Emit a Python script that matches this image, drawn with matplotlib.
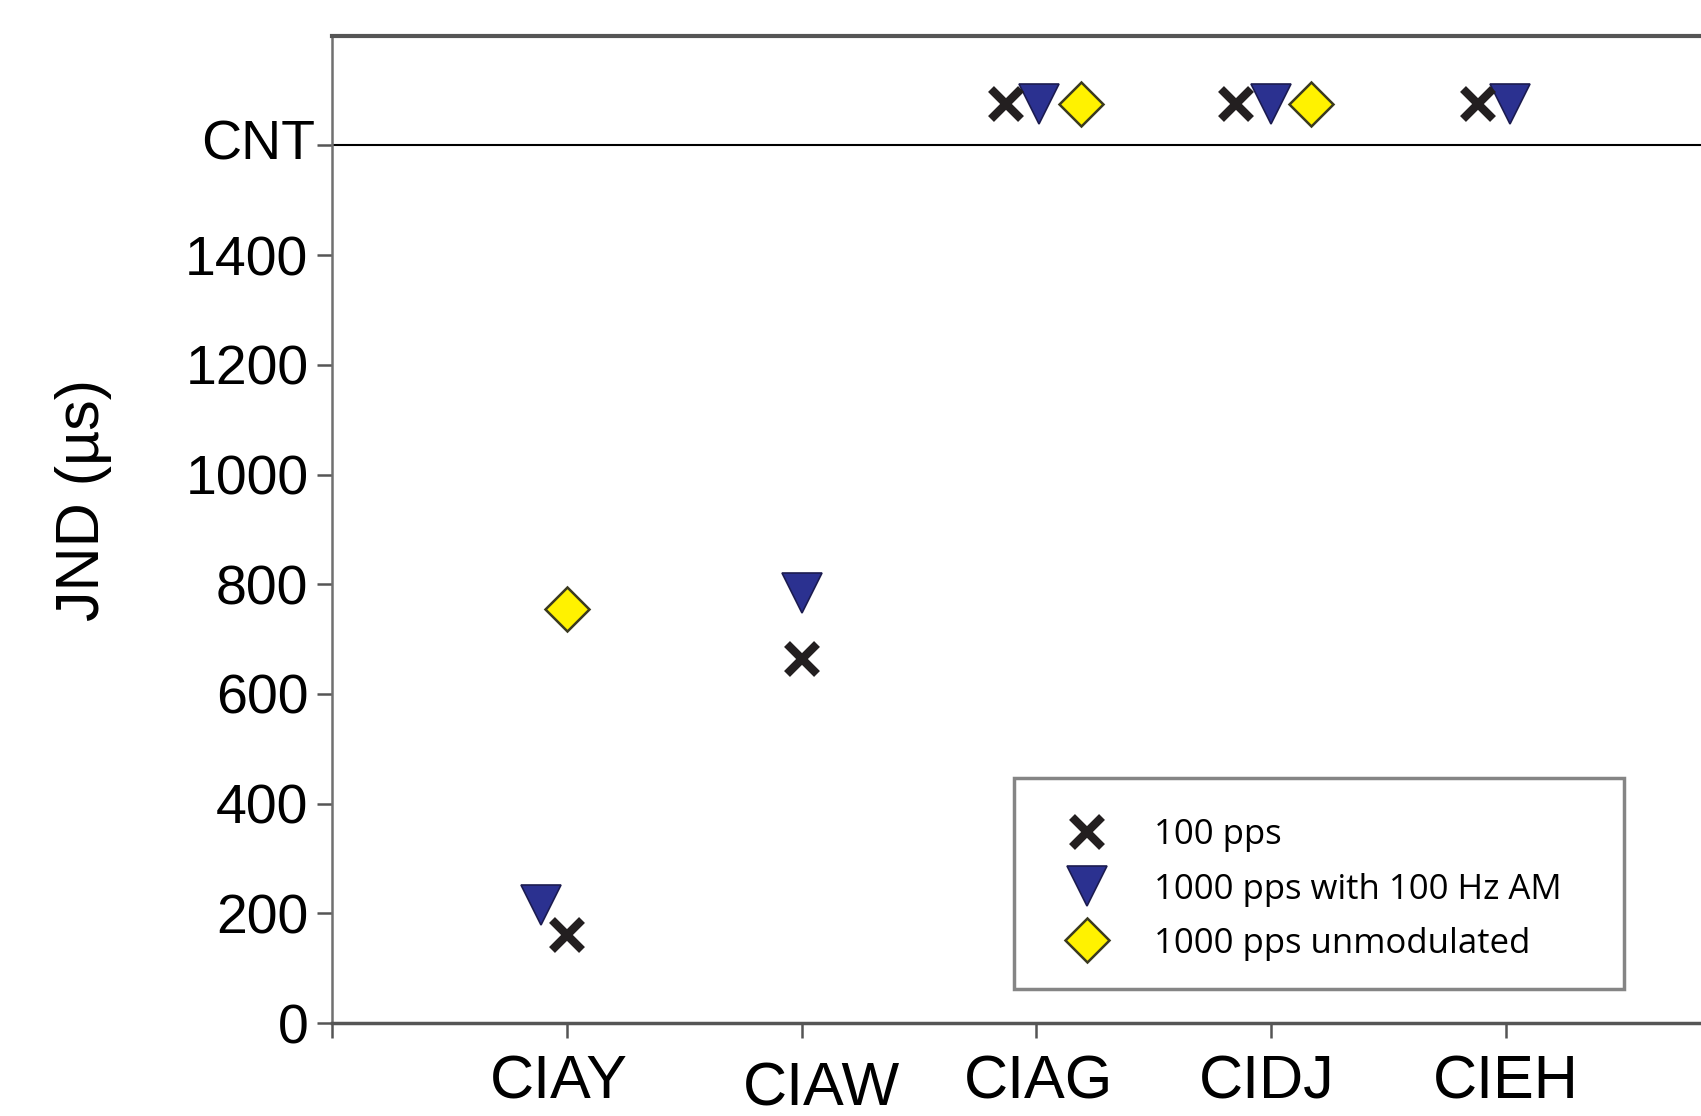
import numpy as np
import matplotlib.pyplot as plt
import matplotlib.transforms as mtransforms
from matplotlib.patches import Rectangle

plt.rcParams['font.family'] = ['Liberation Sans', 'DejaVu Sans']

# data
subjects = ['CIAY', 'CIAW', 'CIAG', 'CIDJ', 'CIEH']
CNT = 1675   # "could not track" plotted above the CNT line
jnd_100 = [160, 663, CNT, CNT, CNT]
jnd_1000_am = [215, 784, CNT, CNT, CNT]
jnd_1000_unmod = [755, np.nan, CNT, CNT, np.nan]
yticks = [0, 200, 400, 600, 800, 1000, 1200, 1400, 1600]
yticklabels = ['0', '200', '400', '600', '800', '1000', '1200', '1400', 'CNT']
legend_labels = ['100 pps', '1000 pps with 100 Hz AM', '1000 pps unmodulated']

# small sideways shifts so overlapping symbols stay visible
dodge_100 = [0.0, 0.0, -0.13, -0.15, -0.12]
dodge_am = [-0.11, 0.0, 0.01, 0.0, 0.02]
dodge_unmod = [0.0, 0.0, 0.19, 0.17, 0.0]

x = np.arange(1, len(subjects) + 1)
navy = '#2b3190'
yellow = '#fff200'
dark = '#231f20'

fig = plt.figure(figsize=(17.01, 11.16), dpi=100)
ax = fig.add_axes([0.1952, 0.0833, 0.828, 0.8847])

h1, = ax.plot(x + np.array(dodge_100), jnd_100, ls='none', marker='x', ms=21, mew=6,
              color=dark, zorder=4)
h2, = ax.plot(x + np.array(dodge_am), jnd_1000_am, ls='none', marker='v', ms=29,
              mfc=navy, mec='#1c1c50', mew=1.2, zorder=3)
h3, = ax.plot(x + np.array(dodge_unmod), jnd_1000_unmod, ls='none', marker='D', ms=22,
              mfc=yellow, mec='#3b3a20', mew=1.8, zorder=3)

ax.axhline(1600, color='black', lw=1.5, zorder=2)

ax.set_xlim(0, 6)
ax.set_ylim(0, 1800)
ax.set_yticks(yticks)
ax.set_yticklabels(yticklabels)
ax.set_xticks(np.arange(0, 6))
ax.set_xticklabels([''] + subjects)
ax.tick_params(axis='y', labelsize=40, length=11, width=1.8, color='#555555', pad=6)
ax.tick_params(axis='x', labelsize=44, length=11, width=1.8, color='#555555', pad=12)
ax.set_ylabel('JND (µs)', fontsize=44)
ax.yaxis.set_label_coords(-0.156, 0.53)

# the printed labels are not all exactly centred on their ticks
def nudge(lab, dx, dy):
    lab.set_transform(lab.get_transform() +
                      mtransforms.ScaledTranslation(dx / 100, dy / 100, fig.dpi_scale_trans))

x_shift = {'CIAY': (-8, 0), 'CIAW': (20, -7), 'CIDJ': (-4, 0), 'CIAG': (2, 0)}
for lab in ax.get_xticklabels():
    if lab.get_text() in x_shift:
        nudge(lab, *x_shift[lab.get_text()])
for lab in ax.get_yticklabels():
    if lab.get_text() == 'CNT':
        nudge(lab, 7, 6)

ax.spines['right'].set_visible(False)
ax.spines['left'].set_color('#707070')
ax.spines['left'].set_linewidth(1.8)
ax.spines['bottom'].set_color('#555555')
ax.spines['bottom'].set_linewidth(2.5)
ax.spines['top'].set_color('#555555')
ax.spines['top'].set_linewidth(3)

# legend: frameless entries inside a separately drawn box
box = Rectangle((0.5961, 0.1138), 0.3587, 0.1891, transform=fig.transFigure,
                facecolor='white', edgecolor='#858585', lw=2.5, zorder=5, clip_on=False)
ax.add_patch(box)
leg = ax.legend([h1, h2, h3], legend_labels,
                loc='upper left', bbox_to_anchor=(0.6225, 0.2667), bbox_transform=fig.transFigure,
                prop={'family': 'Open Sans', 'size': 25}, frameon=False,
                borderpad=0, labelspacing=0.58, handletextpad=1.15,
                borderaxespad=0, handlelength=1.6)
leg.set_zorder(6)

fig.savefig('out.png', dpi=100)
